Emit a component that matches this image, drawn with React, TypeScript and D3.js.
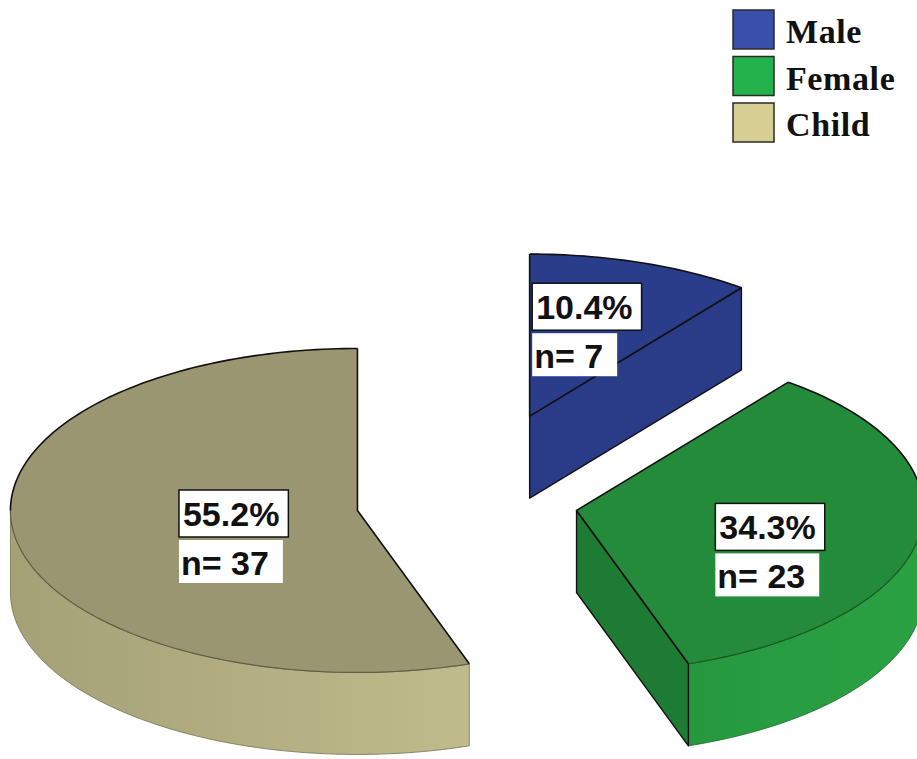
import React, { useMemo } from 'react';
import * as d3 from 'd3';

// Group counts for the exploded 3D pie
const categories = ['Male', 'Female', 'Child'];
const counts = [7, 23, 37];

// Fill colours per slice
const legendColors = ['#3a4fa9', '#24b24c', '#d6ce93'];
const topColors = ['#2a3d8b', '#248b3b', '#9b9672'];
const cutColors = ['#2a3c88', '#1e7b33', '#8f8a66'];
const sideFrom = ['#2a3d8b', '#26993f', '#a5a177'];
const sideTo = ['#2a3d8b', '#2aa143', '#bfbb8c'];
// How far each slice is pulled out from the centre (fraction of the radius)
const explode = [0.56, 0.32, 0.32];
// Small offsets of each label from its sector centroid
const labelShift: [number, number][] = [[-16, -9], [7, 2], [6, -7]];

const W = 917;
const H = 759;
const CX = 467;
const CY = 502;
const RX = 347;
const RY = 162;
const DEPTH = 82;

const LABEL_FONT = 34;
const LABEL_FAMILY = '"Liberation Sans", Arial, sans-serif';

type Pt = [number, number];

function textWidth(s: string, font: string): number {
  if (typeof document === 'undefined') return s.length * LABEL_FONT * 0.56;
  const c = document.createElement('canvas');
  const ctx = c.getContext('2d');
  if (!ctx) return s.length * LABEL_FONT * 0.56;
  ctx.font = font;
  return ctx.measureText(s).width;
}

export default function App() {
  const total = d3.sum(counts);
  const pie = d3.pie<number>().sort(null).startAngle(0).endAngle(2 * Math.PI);
  const arcs = pie(counts);
  const line = d3.line<Pt>().x((d) => d[0]).y((d) => d[1]);

  const slices = useMemo(() => {
    return arcs.map((a, i) => {
      const a0 = a.startAngle;
      const a1 = a.endAngle;
      const mid = (a0 + a1) / 2;
      const d = explode[i] * RX;
      const sx = CX + d * Math.sin(mid);
      const sy = CY - d * (RY / RX) * Math.cos(mid);
      const pt = (t: number, z: number): Pt => [sx + RX * Math.sin(t), sy - RY * Math.cos(t) + z];
      const arcPts = (t0: number, t1: number, z: number): Pt[] => {
        const n = Math.max(4, Math.ceil(Math.abs(t1 - t0) / 0.02));
        return d3.range(n + 1).map((k) => pt(t0 + ((t1 - t0) * k) / n, z));
      };
      const c0: Pt = [sx, sy];
      const c1: Pt = [sx, sy + DEPTH];

      const top = line([c0, ...arcPts(a0, a1, 0)]) + 'Z';

      // outer rim, visible only on the front half of the ellipse
      const r0 = Math.max(a0, Math.PI / 2);
      const r1 = Math.min(a1, (3 * Math.PI) / 2);
      const rim = r1 > r0 ? line([...arcPts(r0, r1, 0), ...arcPts(r1, r0, DEPTH)]) + 'Z' : null;
      const xs = [pt(r0, 0)[0], pt(r1, 0)[0]];
      const rimRange: [number, number] = [Math.min(...xs), Math.max(...xs)];

      // radial cut faces
      const cuts: string[] = [];
      const eps = 1e-6;
      if (Math.sin(a0) < -eps) cuts.push(line([c0, pt(a0, 0), pt(a0, DEPTH), c1]) + 'Z');
      if (Math.sin(a1) > eps) cuts.push(line([c0, pt(a1, 0), pt(a1, DEPTH), c1]) + 'Z');

      // dark outline: radial edges and the back part of the rim
      const backEdges: string[] = [line([pt(a0, 0), c0, pt(a1, 0)]) as string];
      if (a0 < Math.PI / 2) backEdges.push(line(arcPts(a0, Math.min(a1, Math.PI / 2), 0)) as string);
      if (a1 > (3 * Math.PI) / 2) backEdges.push(line(arcPts(Math.max(a0, (3 * Math.PI) / 2), a1, 0)) as string);
      const frontEdge = r1 > r0 ? (line(arcPts(r0, r1, 0)) as string) : null;

      // label anchored at the centroid of the top sector
      const half = (a1 - a0) / 2;
      const k = (2 * Math.sin(half)) / (3 * half);
      const lx = sx + RX * k * Math.sin(mid) + labelShift[i][0];
      const ly = sy - RY * k * Math.cos(mid) + labelShift[i][1];
      const pct = `${d3.format('.1f')((counts[i] / total) * 100)}%`;
      const nText = `n= ${counts[i]}`;

      return { i, top, rim, rimRange, cuts, backEdges, frontEdge, lx, ly, pct, nText };
    });
  }, []);

  const font = `bold ${LABEL_FONT}px ${LABEL_FAMILY}`;
  const drawOrder = [0, 2, 1];

  return (
    <svg
      width={W}
      height={H}
      style={{ position: 'absolute', left: 0, top: 0, background: '#ffffff' }}
    >
      <defs>
        {slices.map((s) => (
          <linearGradient
            key={s.i}
            id={`rim-${s.i}`}
            gradientUnits="userSpaceOnUse"
            x1={s.rimRange[0]}
            x2={s.rimRange[1]}
            y1={0}
            y2={0}
          >
            <stop offset="0%" stopColor={sideFrom[s.i]} />
            <stop offset="100%" stopColor={sideTo[s.i]} />
          </linearGradient>
        ))}
      </defs>
      <rect width={W} height={H} fill="#ffffff" />

      {drawOrder.map((idx) => {
        const s = slices[idx];
        return (
          <g key={idx}>
            {s.rim && (
              <path d={s.rim} fill={`url(#rim-${s.i})`} stroke={d3.color(sideFrom[s.i])!.darker(1).formatHex()} strokeWidth={0.8} />
            )}
            {s.cuts.map((c, j) => (
              <path key={j} d={c} fill={cutColors[s.i]} stroke="#111" strokeWidth={1.4} strokeLinejoin="round" />
            ))}
            <path d={s.top} fill={topColors[s.i]} stroke="none" />
            {s.frontEdge && (
              <path d={s.frontEdge} fill="none" stroke={d3.color(topColors[s.i])!.darker(1.3).formatHex()} strokeWidth={1.2} />
            )}
            {s.backEdges.map((e, j) => (
              <path key={j} d={e} fill="none" stroke="#111" strokeWidth={1.6} strokeLinejoin="round" />
            ))}
          </g>
        );
      })}

      {slices.map((s) => {
        const pw = textWidth(s.pct, font) + 13;
        const nw = textWidth(s.nText, font) + 16;
        const pctH = 47;
        const nH = 43;
        const bx = s.lx - pw / 2;
        const by = s.ly - pctH / 2;
        return (
          <g key={`lab-${s.i}`} fontFamily={LABEL_FAMILY} fontWeight="bold" fontSize={LABEL_FONT} fill="#111">
            <rect x={bx} y={by} width={pw} height={pctH} fill="#ffffff" stroke="#111" strokeWidth={1.5} />
            <text x={bx + 4} y={by + 36}>{s.pct}</text>
            <rect x={bx} y={by + pctH + 3} width={nw} height={nH} fill="#ffffff" />
            <text x={bx + 2} y={by + pctH + 3 + 35}>{s.nText}</text>
          </g>
        );
      })}

      <g fontFamily='"Liberation Serif", "Times New Roman", serif' fontWeight="bold" fontSize={34} letterSpacing={0.6} fill="#111">
        {categories.map((c, i) => (
          <g key={c} transform={`translate(733, ${10 + i * 46.5})`}>
            <rect x={0} y={0} width={41} height={39} fill={legendColors[i]} stroke="#2a2a2a" strokeWidth={1.5} />
            <text x={53} y={33}>{c}</text>
          </g>
        ))}
      </g>
    </svg>
  );
}
